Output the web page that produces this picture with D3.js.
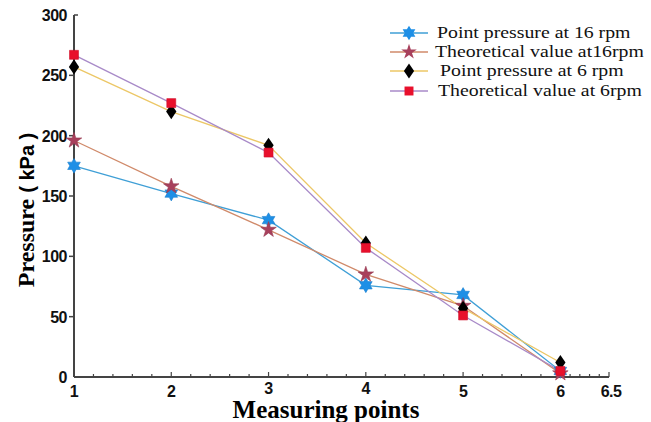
<!DOCTYPE html>
<html>
<head>
<meta charset="utf-8">
<script src="https://cdn.jsdelivr.net/npm/d3@7"></script>
<style>
  body { margin: 0; background: #fff; }
  svg { display: block; }
  .tick-label { font-family: "Liberation Sans", Arial, sans-serif; font-weight: bold; font-size: 16px; fill: #111; }
  .legend-text { font-family: "Liberation Serif", "Times New Roman", serif; font-size: 16.5px; fill: #111; }
</style>
</head>
<body>
<svg id="chart" width="651" height="422"></svg>
<script>
// data
const points = [1, 2, 3, 4, 5, 6];
const seriesNames = [
  'Point pressure at 16 rpm',
  'Theoretical value at16rpm',
  'Point pressure at 6 rpm',
  'Theoretical value at 6rpm'
];
const pressure16 = [175, 152, 130, 76, 68, 5];
const theory16 = [196, 158, 122, 85, 59, 3];
const pressure6 = [257, 220, 192, 111, 57, 12];
const theory6 = [267, 227, 186, 107, 51, 5];
const yTicks = [0, 50, 100, 150, 200, 250, 300];
const xTicks = [1, 2, 3, 4, 5, 6, 6.5];

const svg = d3.select('#chart');

const x = d3.scaleLinear().domain([1, 6.5]).range([74, 609]);
const y = d3.scaleLinear().domain([0, 300]).range([377, 15]);

// six pointed star
const hexagram = {
  draw(ctx, size) {
    const r = Math.sqrt(size) * 0.62;
    const ri = r * 0.58;
    for (let i = 0; i < 12; i++) {
      const a = -Math.PI / 2 + i * Math.PI / 6;
      const rr = i % 2 === 0 ? r : ri;
      if (i === 0) ctx.moveTo(rr * Math.cos(a), rr * Math.sin(a));
      else ctx.lineTo(rr * Math.cos(a), rr * Math.sin(a));
    }
    ctx.closePath();
  }
};
// tall diamond
const tallDiamond = {
  draw(ctx, size) {
    const w = Math.sqrt(size) * 0.42, h = Math.sqrt(size) * 0.62;
    ctx.moveTo(0, -h); ctx.lineTo(w, 0); ctx.lineTo(0, h); ctx.lineTo(-w, 0); ctx.closePath();
  }
};

const series = [
  { name: seriesNames[0], values: pressure16, line: '#3f9fd6', fill: '#1e8fe6', symbol: hexagram, size: 140 },
  { name: seriesNames[1], values: theory16, line: '#d08a6a', fill: '#a8405c', symbol: d3.symbolStar, size: 75 },
  { name: seriesNames[2], values: pressure6, line: '#ecc766', fill: '#000', symbol: tallDiamond, size: 150 },
  { name: seriesNames[3], values: theory6, line: '#a88ac8', fill: '#e8102c', symbol: d3.symbolSquare, size: 80 }
];

// axes
const axisG = svg.append('g');
axisG.append('line')
  .attr('x1', x(1)).attr('x2', x(1)).attr('y1', y(0)).attr('y2', y(300))
  .attr('stroke', '#444').attr('stroke-width', 2);
axisG.append('line')
  .attr('x1', x(1)).attr('x2', x(6.5)).attr('y1', y(0)).attr('y2', y(0))
  .attr('stroke', '#444').attr('stroke-width', 2);

// y ticks
yTicks.forEach(v => {
  if (v === 300) {
    axisG.append('line').attr('x1', x(1)).attr('x2', x(1) + 4)
      .attr('y1', y(v)).attr('y2', y(v)).attr('stroke', '#444').attr('stroke-width', 1.5);
  } else if (v > 0) {
    axisG.append('line').attr('x1', x(1) - 5).attr('x2', x(1))
      .attr('y1', y(v)).attr('y2', y(v)).attr('stroke', '#444').attr('stroke-width', 1.5);
  }
  axisG.append('text').attr('class', 'tick-label')
    .attr('x', x(1) - 7).attr('y', y(v) + 6)
    .attr('text-anchor', 'end')
    .style('letter-spacing', '-0.5px')
    .text(v);
});

// x ticks (minor every 0.2 up to 6, then 0.1)
const minor = d3.range(1, 6.001, 0.2).concat(d3.range(6.1, 6.501, 0.1));
minor.forEach(v => {
  const major = Math.abs(v - Math.round(v)) < 1e-6 || Math.abs(v - 6.5) < 1e-6;
  axisG.append('line')
    .attr('x1', x(v)).attr('x2', x(v))
    .attr('y1', y(0)).attr('y2', y(0) - (major ? 5 : 3))
    .attr('stroke', '#444').attr('stroke-width', 1.2);
});
xTicks.forEach(v => {
  axisG.append('text').attr('class', 'tick-label')
    .attr('x', x(v) + (v === 6.5 ? 2 : 0))
    .attr('y', y(0) + ((v === 3 || v === 4) ? 17 : 20))
    .attr('text-anchor', 'middle')
    .style('letter-spacing', '-0.5px')
    .text(v);
});

// axis titles
svg.append('text')
  .attr('x', 326).attr('y', 418)
  .attr('text-anchor', 'middle')
  .style('font-family', '"Liberation Serif", "Times New Roman", serif')
  .style('font-weight', 'bold').style('font-size', '25px')
  .text('Measuring points');

const yTitle = svg.append('text')
  .attr('transform', 'translate(34,210) rotate(-90)')
  .attr('text-anchor', 'middle')
  .style('font-weight', 'bold').style('font-size', '24px');
yTitle.append('tspan')
  .style('font-family', '"Liberation Serif", "Times New Roman", serif')
  .text('Pressure ');
yTitle.append('tspan')
  .style('font-family', '"Liberation Sans", Arial, sans-serif').style('font-size', '20px')
  .text('( kPa )');

// lines
const line = d3.line()
  .x((d, i) => x(points[i]))
  .y(d => y(d));

series.forEach(s => {
  svg.append('path')
    .datum(s.values)
    .attr('d', line)
    .attr('fill', 'none')
    .attr('stroke', s.line)
    .attr('stroke-width', 1.3);
});

// markers
series.forEach(s => {
  svg.append('g').selectAll('path')
    .data(s.values)
    .join('path')
    .attr('transform', (d, i) => `translate(${x(points[i])},${y(d)})`)
    .attr('d', d3.symbol().type(s.symbol).size(s.size))
    .attr('fill', s.fill)
    .attr('stroke', s.fill === '#000' ? 'none' : d3.color(s.fill).darker(0.3))
    .attr('stroke-width', 0.6);
});

// legend
const legendRows = [33, 52, 71, 91];
const legendTextX = [437, 435, 440, 438];
series.forEach((s, i) => {
  const g = svg.append('g').attr('transform', `translate(0,${legendRows[i]})`);
  g.append('line').attr('x1', 390).attr('x2', 428).attr('y1', 0).attr('y2', 0)
    .attr('stroke', s.line).attr('stroke-width', 1.3);
  g.append('path').attr('transform', 'translate(409,0)')
    .attr('d', d3.symbol().type(s.symbol).size(s.size))
    .attr('fill', s.fill);
  g.append('text').attr('class', 'legend-text')
    .attr('transform', `translate(${legendTextX[i]},5) scale(1.2,1)`)
    .text(s.name);
});
</script>
</body>
</html>
